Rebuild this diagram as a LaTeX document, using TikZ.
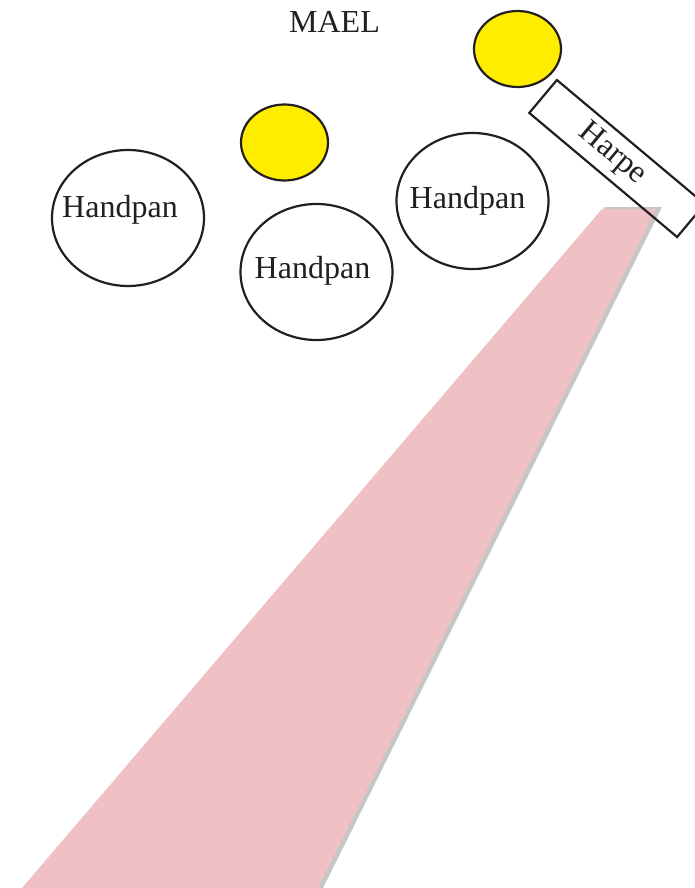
\documentclass[tikz,border=0pt]{standalone}
\usepackage{fontspec}
\setmainfont{Liberation Serif}
\usetikzlibrary{shapes.geometric}
\definecolor{beamcol}{HTML}{F0C1C4}
\definecolor{shadowcol}{HTML}{C6C6C6}
\definecolor{ink}{HTML}{231F20}
\definecolor{sun}{HTML}{FFED00}
\tikzset{
  pan/.style={ellipse, draw=ink, line width=2.2pt, minimum width=152pt, minimum height=136pt, inner sep=0pt},
  light/.style={ellipse, draw=ink, fill=sun, line width=2.2pt, minimum width=87pt, minimum height=76pt, inner sep=0pt},
  harpbox/.style={rectangle, draw=ink, line width=2.2pt, minimum width=193pt, minimum height=43pt, inner sep=0pt, rotate=-40},
  lbl/.style={text=ink, font=\fontsize{32}{36}\selectfont, inner sep=0pt}
}
\begin{document}
\begin{tikzpicture}[x=1pt,y=-1pt]
\useasboundingbox (0,0) rectangle (695,888);
\clip (0,0) rectangle (695,888);
% beam
\fill[shadowcol] (605,207) -- (662,207) -- (322,890) -- (25,890) -- cycle;
\fill[beamcol] (602,209) -- (656,209) -- (318,888) -- (22,888) -- cycle;
% lights
\node[light] (l1) at (517.5,49) {};
\node[light] (l2) at (284.5,142.5) {};
% handpans
\node[pan] (hp1) at (128,218) {};
\node[pan] (hp2) at (316.5,272) {};
\node[pan] (hp3) at (472.5,201) {};
\node[lbl, anchor=base] (t1) at (120,217) {Handpan};
\node[lbl, anchor=base] (t2) at (312.5,278) {Handpan};
\node[lbl, anchor=base] (t3) at (467.5,208) {Handpan};
% harp
\node[harpbox] (harp) at (617,158.5) {};
\node[lbl, rotate=-40] (harpt) at (612,154) {Harpe};
% title
\node[lbl, anchor=base] (title) at (334.5,33) {MAEL};
\end{tikzpicture}
\end{document}
